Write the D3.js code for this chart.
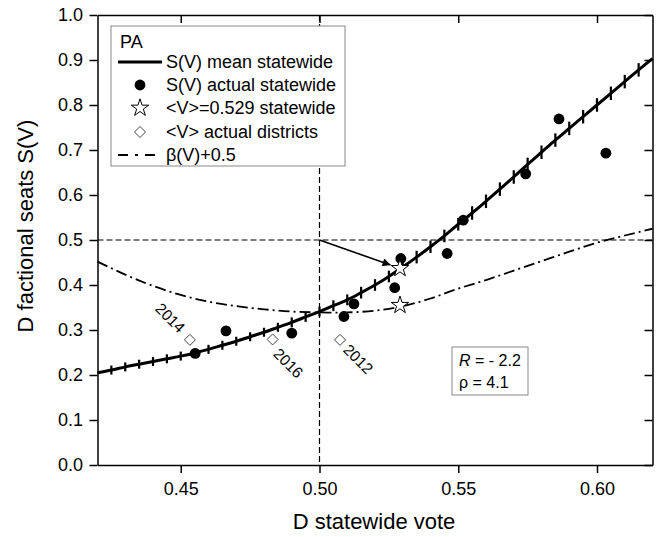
<!DOCTYPE html>
<html>
<head>
<meta charset="utf-8">
<script src="https://cdn.jsdelivr.net/npm/d3@7"></script>
<style>
  body { margin: 0; background: #fff; }
  svg { font-family: "Liberation Sans", Arial, sans-serif; }
  .axis path, .axis line { stroke: #000; stroke-width: 1.5; }
  .axis text { font-size: 18px; fill: #000; font-family: "Liberation Sans", Arial, sans-serif; }
</style>
</head>
<body>
<script>
// mean statewide S(V), read every 0.005
const meanV = [0.420, 0.425, 0.430, 0.435, 0.440, 0.445, 0.450, 0.455, 0.460, 0.465,
               0.470, 0.475, 0.480, 0.485, 0.490, 0.495, 0.500, 0.505, 0.510, 0.515,
               0.520, 0.525, 0.530, 0.535, 0.540, 0.545, 0.550, 0.555, 0.560, 0.565,
               0.570, 0.575, 0.580, 0.585, 0.590, 0.595, 0.600, 0.605, 0.610, 0.615, 0.620];
const meanS = [0.205, 0.211, 0.218, 0.224, 0.230, 0.236, 0.242, 0.249, 0.257, 0.266,
               0.275, 0.285, 0.295, 0.306, 0.317, 0.329, 0.341, 0.354, 0.367, 0.383,
               0.400, 0.419, 0.440, 0.462, 0.485, 0.509, 0.535, 0.560, 0.586, 0.613,
               0.640, 0.668, 0.695, 0.722, 0.748, 0.774, 0.800, 0.826, 0.852, 0.878, 0.903];
const meanErr = [0.010, 0.010, 0.010, 0.010, 0.010, 0.010, 0.010, 0.010, 0.010, 0.010,
                 0.010, 0.010, 0.010, 0.010, 0.011, 0.011, 0.011, 0.012, 0.012, 0.013,
                 0.013, 0.013, 0.014, 0.014, 0.014, 0.014, 0.014, 0.015, 0.015, 0.015,
                 0.015, 0.015, 0.015, 0.015, 0.015, 0.015, 0.015, 0.015, 0.015, 0.015, 0.015];

// beta(V)+0.5
const betaV = [0.42, 0.43, 0.44, 0.45, 0.46, 0.47, 0.48, 0.49, 0.50, 0.51, 0.52,
               0.53, 0.54, 0.55, 0.56, 0.57, 0.58, 0.59, 0.60, 0.61, 0.62];
const betaS = [0.452, 0.423, 0.398, 0.378, 0.363, 0.353, 0.346, 0.341, 0.339, 0.339, 0.343,
               0.353, 0.370, 0.392, 0.411, 0.432, 0.453, 0.474, 0.494, 0.510, 0.525];

// actual statewide results
const actualV = [0.4552, 0.4663, 0.490, 0.5088, 0.5124, 0.5271, 0.5293, 0.546, 0.5518, 0.5743, 0.5863, 0.6032];
const actualS = [0.248, 0.298, 0.293, 0.330, 0.358, 0.394, 0.459, 0.470, 0.544, 0.647, 0.769, 0.693];

// <V> stars
const starV = [0.529, 0.529];
const starS = [0.437, 0.355];

// <V> actual districts
const distYears = ["2014", "2016", "2012"];
const distV = [0.4533, 0.4831, 0.5074];
const distS = [0.278, 0.279, 0.278];

const xTicks = [0.45, 0.50, 0.55, 0.60];
const yTicks = [0.0, 0.1, 0.2, 0.3, 0.4, 0.5, 0.6, 0.7, 0.8, 0.9, 1.0];

const W = 659, H = 537;
const pLeft = 97.5, pRight = 652.5, pTop = 15, pBottom = 465;

const svg = d3.select("body").append("svg").attr("width", W).attr("height", H);

const x = d3.scaleLinear().domain([0.42, 0.62]).range([pLeft, pRight]);
const y = d3.scaleLinear().domain([0, 1]).range([pBottom, pTop]);

// reference dashed lines
svg.append("line")
    .attr("x1", pLeft).attr("x2", pRight)
    .attr("y1", y(0.5)).attr("y2", y(0.5))
    .attr("stroke", "#000").attr("stroke-width", 1.2).attr("stroke-dasharray", "6,3");
svg.append("line")
    .attr("x1", x(0.5)).attr("x2", x(0.5))
    .attr("y1", pTop).attr("y2", pBottom)
    .attr("stroke", "#000").attr("stroke-width", 1.2).attr("stroke-dasharray", "6,3");

// beta curve
const betaLine = d3.line().x(d => x(d[0])).y(d => y(d[1])).curve(d3.curveCatmullRom);
svg.append("path")
    .datum(betaV.map((v, i) => [v, betaS[i]]))
    .attr("d", betaLine)
    .attr("fill", "none").attr("stroke", "#000").attr("stroke-width", 1.8)
    .attr("stroke-dasharray", "11,4,2,4");

// mean curve + error marks
const meanPts = meanV.map((v, i) => ({v: v, s: meanS[i], e: meanErr[i]}));
svg.append("path")
    .datum(meanPts)
    .attr("d", d3.line().x(d => x(d.v)).y(d => y(d.s)).curve(d3.curveCatmullRom))
    .attr("fill", "none").attr("stroke", "#000").attr("stroke-width", 3);
svg.append("g").selectAll("line")
    .data(meanPts.slice(1, -1))
    .enter().append("line")
    .attr("x1", d => x(d.v)).attr("x2", d => x(d.v))
    .attr("y1", d => y(d.s - d.e)).attr("y2", d => y(d.s + d.e))
    .attr("stroke", "#000").attr("stroke-width", 2.2);

// actual points
svg.append("g").selectAll("circle")
    .data(actualV.map((v, i) => [v, actualS[i]]))
    .enter().append("circle")
    .attr("cx", d => x(d[0])).attr("cy", d => y(d[1]))
    .attr("r", 5.4).attr("fill", "#000");

// arrow from (0.5,0.5) to upper star
svg.append("defs").append("marker")
    .attr("id", "arrow")
    .attr("viewBox", "0 0 10 10")
    .attr("refX", 10).attr("refY", 5)
    .attr("markerWidth", 11).attr("markerHeight", 8)
    .attr("markerUnits", "userSpaceOnUse")
    .attr("orient", "auto")
    .append("path").attr("d", "M0,0L10,5L0,10z").attr("fill", "#000");
{
  const x0 = x(0.5), y0 = y(0.5), x1 = x(starV[0]), y1 = y(starS[0]);
  const len = Math.hypot(x1 - x0, y1 - y0);
  const k = (len - 10) / len;
  svg.append("line")
      .attr("x1", x0).attr("y1", y0)
      .attr("x2", x0 + (x1 - x0) * k).attr("y2", y0 + (y1 - y0) * k)
      .attr("stroke", "#000").attr("stroke-width", 1.6)
      .attr("marker-end", "url(#arrow)");
}

// stars
const star = d3.symbol().type(d3.symbolStar).size(95);
svg.append("g").selectAll("path")
    .data(starV.map((v, i) => [v, starS[i]]))
    .enter().append("path")
    .attr("d", star)
    .attr("transform", d => `translate(${x(d[0])},${y(d[1])})`)
    .attr("fill", "#fff").attr("stroke", "#000").attr("stroke-width", 1);

// districts diamonds + year labels
const diamondPath = "M0,-5.5L5.5,0L0,5.5L-5.5,0Z";
const labelOff = {"2014": [-7.5, -9.8, "end"], "2016": [3.5, 11.4, "start"], "2012": [6, 7, "start"]};
const dist = svg.append("g").selectAll("g")
    .data(distYears.map((yr, i) => ({yr: yr, v: distV[i], s: distS[i]})))
    .enter().append("g")
    .attr("transform", d => `translate(${x(d.v)},${y(d.s)})`);
dist.append("path")
    .attr("d", diamondPath)
    .attr("fill", "#fff").attr("stroke", "#444").attr("stroke-width", 1);
dist.append("text")
    .attr("transform", d => `translate(${labelOff[d.yr][0]},${labelOff[d.yr][1]}) rotate(45)`)
    .attr("text-anchor", d => labelOff[d.yr][2])
    .attr("dy", "0.35em")
    .attr("font-size", 15.5)
    .text(d => d.yr);

// axes
const xMinor = d3.range(0.42, 0.6201, 0.01);
const yMinor = d3.range(0, 1.001, 0.02);

const gx = svg.append("g").attr("class", "axis").attr("transform", `translate(0,${pBottom})`);
gx.call(d3.axisBottom(x).tickValues(xMinor).tickSize(5).tickSizeOuter(0).tickFormat(""));
gx.call(d3.axisBottom(x).tickValues(xTicks).tickSize(8).tickSizeOuter(0).tickPadding(9).tickFormat(d3.format(".2f")));

const gxt = svg.append("g").attr("class", "axis").attr("transform", `translate(0,${pTop})`);
gxt.call(d3.axisTop(x).tickValues(xMinor).tickSize(-5).tickSizeOuter(0).tickFormat(""));
gxt.call(d3.axisTop(x).tickValues(xTicks).tickSize(-8).tickSizeOuter(0).tickFormat(""));

const gy = svg.append("g").attr("class", "axis").attr("transform", `translate(${pLeft},0)`);
gy.call(d3.axisLeft(y).tickValues(yMinor).tickSize(4).tickSizeOuter(0).tickFormat(""));
gy.call(d3.axisLeft(y).tickValues(yTicks).tickSize(8).tickSizeOuter(0).tickPadding(6.5).tickFormat(d3.format(".1f")));

const gyr = svg.append("g").attr("class", "axis").attr("transform", `translate(${pRight},0)`);
gyr.call(d3.axisRight(y).tickValues(yMinor).tickSize(-4).tickSizeOuter(0).tickFormat(""));
gyr.call(d3.axisRight(y).tickValues(yTicks).tickSize(-8).tickSizeOuter(0).tickFormat(""));

// axis titles
svg.append("text")
    .attr("x", 374).attr("y", 529)
    .attr("text-anchor", "middle").attr("font-size", 22)
    .text("D statewide vote");
svg.append("text")
    .attr("transform", "translate(33,226) rotate(-90)")
    .attr("text-anchor", "middle").attr("font-size", 22)
    .text("D factional seats S(V)");

// legend
const lg = svg.append("g");
lg.append("rect")
    .attr("x", 111).attr("y", 26).attr("width", 234).attr("height", 140)
    .attr("fill", "#fff").attr("stroke", "#888").attr("stroke-width", 1);
lg.append("text").attr("x", 120).attr("y", 48).attr("font-size", 18).text("PA");
const legendLabels = ["S(V) mean statewide", "S(V) actual statewide", "<V>=0.529 statewide",
                      "<V> actual districts", "β(V)+0.5"];
const rowY = [62, 85, 108, 132, 155];
legendLabels.forEach((t, i) => {
  lg.append("text").attr("x", 166).attr("y", rowY[i]).attr("dy", "0.35em")
    .attr("font-size", 18).text(t);
});
lg.append("line").attr("x1", 118).attr("x2", 162).attr("y1", rowY[0]).attr("y2", rowY[0])
    .attr("stroke", "#000").attr("stroke-width", 3);
lg.append("circle").attr("cx", 140).attr("cy", rowY[1]).attr("r", 5.4).attr("fill", "#000");
lg.append("path").attr("d", star).attr("transform", `translate(140,${rowY[2]})`)
    .attr("fill", "#fff").attr("stroke", "#000").attr("stroke-width", 1);
lg.append("path").attr("d", diamondPath).attr("transform", `translate(140,${rowY[3]})`)
    .attr("fill", "#fff").attr("stroke", "#444").attr("stroke-width", 1);
lg.append("line").attr("x1", 118).attr("x2", 162).attr("y1", rowY[4]).attr("y2", rowY[4])
    .attr("stroke", "#000").attr("stroke-width", 1.8).attr("stroke-dasharray", "10,7,3,7");

// stats box
const sb = svg.append("g");
sb.append("rect")
    .attr("x", 452).attr("y", 347).attr("width", 76).attr("height", 48)
    .attr("fill", "#fff").attr("stroke", "#888").attr("stroke-width", 1);
const t1 = sb.append("text").attr("x", 459).attr("y", 366).attr("font-size", 16);
t1.append("tspan").attr("font-style", "italic").text("R");
t1.append("tspan").text(" = - 2.2");
sb.append("text").attr("x", 459).attr("y", 388).attr("font-size", 16).text("ρ = 4.1");
</script>
</body>
</html>
